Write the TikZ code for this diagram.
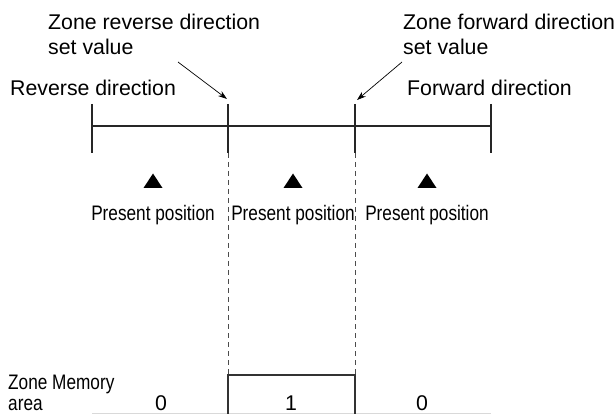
\documentclass[tikz,border=0pt]{standalone}
\usepackage{fontspec}
\setmainfont{Liberation Sans}
\newfontfamily\narrowfont[FakeStretch=0.82]{Liberation Sans}
\usetikzlibrary{positioning,arrows.meta}

\begin{document}
\begin{tikzpicture}[
    x=1pt, y=-1pt,
    >={Stealth[length=9pt,width=6pt]},
    lbl/.style={
        font=\fontsize{21.3}{25}\selectfont,
        align=left,
        inner sep=0pt
    },
    narrow/.style={
        font=\narrowfont\fontsize{21}{21}\selectfont,
        align=left,
        inner sep=0pt
    },
    axis/.style={line width=1.5pt, black!85},
    zoneline/.style={gray!60!black, line width=1pt, dash pattern=on 5pt off 4pt},
    membox/.style={black!80, line width=1.3pt},
    arr/.style={->, line width=0.7pt}
]
\useasboundingbox (0,0) rectangle (616,414);

% axis
\coordinate (revend) at (92,126);
\coordinate (zrev) at (228,126);
\coordinate (zfwd) at (355,126);
\coordinate (fwdend) at (491,126);

\draw[axis] (revend) -- (fwdend);
\foreach \c in {revend,zrev,zfwd,fwdend}
    \draw[axis] (\c) ++(0,-22) -- ++(0,49);

% labels on top
\node[lbl, anchor=north west] (revset) at (48,14)
{Zone reverse direction\\set value};
\node[lbl, anchor=north west] (fwdset) at (403,14)
{Zone forward direction\\set value};
\node[lbl, anchor=base west] (revdir) at (10,95.5) {Reverse direction};
\node[lbl, anchor=base west] (fwddir) at (407,95.5) {Forward direction};

\coordinate (revtail) at (178,62);
\coordinate (revhead) at (227,99);
\coordinate (fwdtail) at (402,62);
\coordinate (fwdhead) at (357,100);
\draw[arr] (revtail) -- (revhead);
\draw[arr] (fwdtail) -- (fwdhead);

% present positions
\foreach \x/\n in {153/left,293/mid,427/right}{
    \fill (\x,173.5) -- (\x+9.5,188) -- (\x-9.5,188) -- cycle;
    \node[narrow, anchor=base] (pp\n) at (\x,220.5) {Present position};
}

% zone boundaries
\draw[zoneline] (zrev) ++(0,27) -- (228,375);
\draw[zoneline] (zfwd) ++(0,27) -- (355,375);

% memory area
\draw[gray!30, line width=0.8pt] (92,413) -- (491,413);
\draw[membox] (228,415) -- (228,375) -- (355,375) -- (355,415);

\node[narrow, anchor=north west] (memo) at (8,375) {Zone Memory\\area};
\node[lbl, anchor=base] (bit0l) at (161,410) {0};
\node[lbl, anchor=base] (bit1) at (291,410) {1};
\node[lbl, anchor=base] (bit0r) at (422,410) {0};

\end{tikzpicture}
\end{document}
